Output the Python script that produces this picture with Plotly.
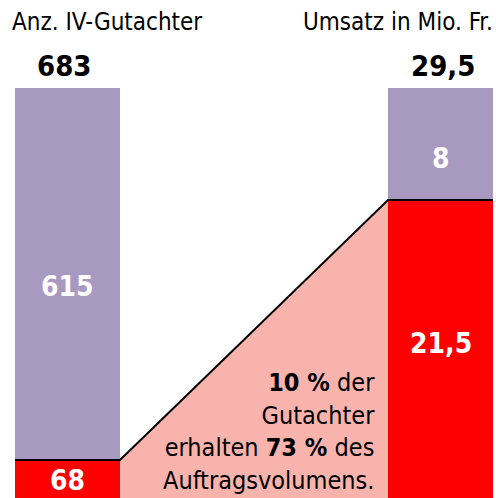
import plotly.graph_objects as go

categories = ["Anz. IV-Gutachter", "Umsatz in Mio. Fr."]
totals = [683, 29.5]
total_labels = ["683", "29,5"]
red_values = [68, 21.5]
purple_values = [615, 8]
red_labels = ["68", "21,5"]
purple_labels = ["615", "8"]

RED = "#FF0000"
PURPLE = "#A899C1"
PINK = "#F9B3AD"
FONT = "Liberation Sans Narrow, DejaVu Sans Condensed, Roboto, sans-serif"

xs = [0, 1]
w = 105 / 373
red_frac = [r / t for r, t in zip(red_values, totals)]
purple_frac = [p / t for p, t in zip(purple_values, totals)]

fig = go.Figure()

# connecting pink polygon
fig.add_trace(go.Scatter(
    x=[xs[0] + w / 2, xs[1] - w / 2, xs[1] - w / 2, xs[0] + w / 2],
    y=[red_frac[0], red_frac[1], 0, 0],
    fill="toself", fillcolor=PINK, mode="none", hoverinfo="skip"))

fig.add_trace(go.Bar(x=xs, y=red_frac, width=w, marker=dict(color=RED, line=dict(width=0)),
                     hoverinfo="skip"))
fig.add_trace(go.Bar(x=xs, y=purple_frac, width=w, marker=dict(color=PURPLE, line=dict(width=0)),
                     hoverinfo="skip"))

# black connecting line
fig.add_trace(go.Scatter(
    x=[xs[0] - w / 2, xs[0] + w / 2, xs[1] - w / 2, xs[1] + w / 2],
    y=[red_frac[0], red_frac[0], red_frac[1], red_frac[1]],
    mode="lines", line=dict(color="black", width=2), hoverinfo="skip"))

# segment value labels
red_shift = [0, 7]
purple_shift = [-13, -14]
for i, x in enumerate(xs):
    fig.add_annotation(x=x, y=red_frac[i] / 2, text="<b>%s</b>" % red_labels[i], showarrow=False,
                       yshift=red_shift[i], font=dict(family=FONT, size=28, color="white"))
    fig.add_annotation(x=x, y=red_frac[i] + purple_frac[i] / 2, text="<b>%s</b>" % purple_labels[i],
                       showarrow=False, yshift=purple_shift[i],
                       font=dict(family=FONT, size=28, color="white"))

# totals and headers
total_xshift = [-4, 2]
for i, x in enumerate(xs):
    fig.add_annotation(x=x, y=1, yref="y", text="<b>%s</b>" % total_labels[i], showarrow=False,
                       yanchor="bottom", yshift=3, xshift=total_xshift[i],
                       font=dict(family=FONT, size=29, color="black"))
fig.add_annotation(x=0, xref="paper", y=1, yref="paper", text=categories[0], showarrow=False,
                   xanchor="left", yanchor="top", xshift=10, yshift=-6,
                   font=dict(family=FONT, size=24, color="black"))
fig.add_annotation(x=1, xref="paper", y=1, yref="paper", text=categories[1], showarrow=False,
                   xanchor="right", yanchor="top", xshift=-1, yshift=-6,
                   font=dict(family=FONT, size=24, color="black"))

fig.add_annotation(x=xs[1] - w / 2, y=0, yref="paper",
                   text="<b>10 %</b> der<br>Gutachter<br>erhalten <b>73 %</b> des<br>Auftragsvolumens.",
                   showarrow=False, xanchor="right", yanchor="bottom", align="right", xshift=-11, yshift=1,
                   font=dict(family=FONT, size=25, color="black"))

fig.update_layout(
    width=496, height=498, barmode="stack", showlegend=False,
    margin=dict(l=0, r=0, t=0, b=0),
    paper_bgcolor="white", plot_bgcolor="white",
    xaxis=dict(range=[-67.5 / 373, (496 - 67.5) / 373], visible=False, fixedrange=True),
    yaxis=dict(range=[3 / 413, 501 / 413], visible=False, fixedrange=True),
)

fig.write_html("out.html", config={"displayModeBar": False},
               post_script="document.body.style.margin='0';document.body.style.overflow='hidden';")
